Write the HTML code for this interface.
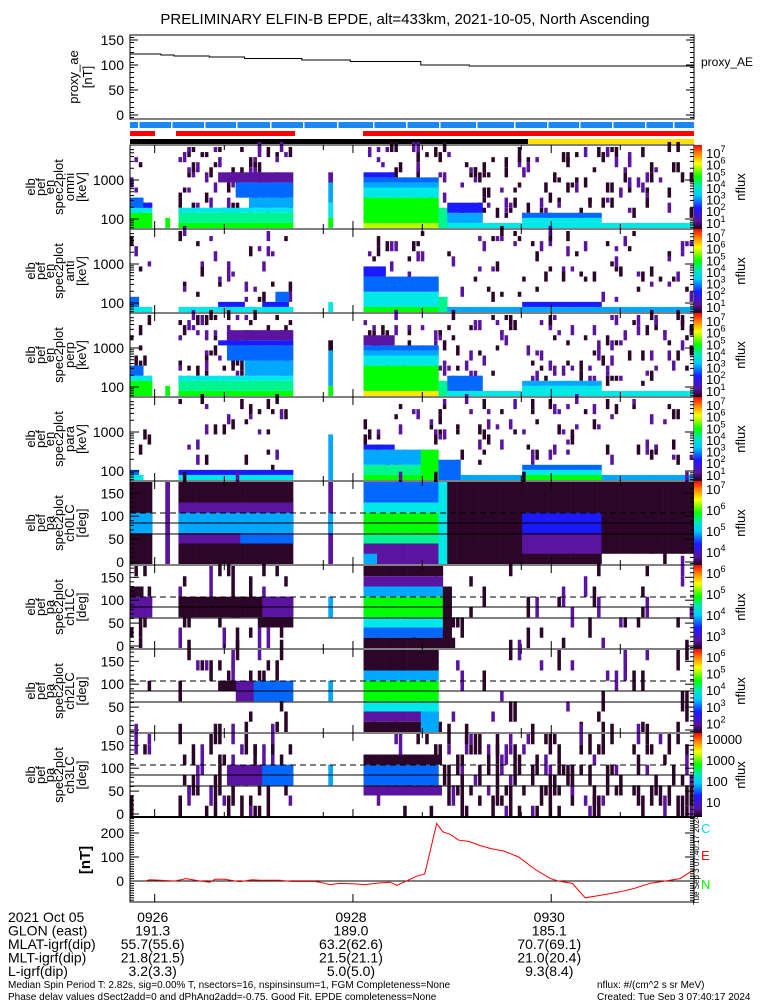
<!DOCTYPE html>
<html><head><meta charset="utf-8"><style>
html,body{margin:0;padding:0;background:#fff;}
svg{display:block;font-family:"Liberation Sans",sans-serif;}
text{font-family:"Liberation Sans",sans-serif;fill:#000;}
</style></head><body>
<svg id="fig" width="775" height="1000" viewBox="0 0 775 1000" xmlns="http://www.w3.org/2000/svg">
<text x="405" y="24" font-size="15" text-anchor="middle">PRELIMINARY ELFIN-B EPDE, alt=433km, 2021-10-05, North Ascending</text>
<g id="g"></g>
</svg>
<script>
// ---- data ----
const NCOL = 128;
const timeTicks = ["0926","0928","0930"];
const tickCols = [5.6, 50.6, 95.6];
const aeCols = [0,7,10,18,26,39,50,66,77,115,127,128];
const aeValues = [122,120,118,116,113,110,107,100,98,98,98,100];
const magCols = [3.4,4.5,6.8,10.2,12.7,15.9,18.1,19.3,21.5,24.9,27.7,29.5,34,36.7,38.5,41.9,43.1,45.4,47.6,51,53.3,56.7,59,60.6,63.3,65.1,66.9,69.6,71,72.6,74.6,76.9,79.1,81.9,84.8,88.2,91.8,95.4,97.2,100.4,103.3,106.7,111.2,114.6,118,121.5,124.8,127.8];
const magValues = [0,5,3,0,10,0,-5,7,7,-3,5,3,3,-2,-2,-2,-5,-15,-10,-12,-15,-8,-5,-18,5,20,30,240,205,195,170,165,150,135,125,100,50,10,0,-10,-70,-60,-45,-30,-10,0,10,45];
const blueBarBreaks = [138,171,204,236,270,303,337,373,406,439,476,514,547,579,612,645,673];
const redBarSegs = [[130,155],[176,295],[363,694]];
// spectrogram blocks: [col0, col1, row0, row1, level]
const omniBlocks = [[0,5,0,3,7],[0,5,3,4,5],[0,3,4,6,3],[3,5,4,5,2],[8,9,0,2,7],[11,37,0,1,7],[11,37,1,3,6],[11,37,3,4,5],[27,37,4,6,4],[24,37,6,9,3],[20,37,9,11,1],[45,46,0,2,7],[45,46,2,5,5],[45,46,5,9,4],[45,46,9,11,1],[53,70,0,1,8],[53,70,1,6,7],[53,70,6,8,5],[53,70,8,9,4],[53,70,9,10,3],[53,60,10,11,2],[70,72,0,4,6],[72,128,0,1,5],[89,107,1,2,5],[89,107,2,3,3],[72,80,1,3,4],[72,80,3,5,2]];
const antiBlocks = [[0,5,0,1,5],[0,2,1,3,3],[11,37,0,1,5],[20,26,1,2,2],[30,36,1,2,2],[33,36,2,4,3],[45,46,0,2,5],[53,70,0,1,7],[53,70,1,4,5],[53,70,4,7,3],[53,58,7,9,2],[70,72,0,3,6],[72,128,0,1,4],[89,107,1,2,2]];
const perpBlocks = [[0,5,0,3,7],[0,5,3,4,5],[0,3,4,6,3],[8,9,0,2,7],[11,37,0,1,7],[11,37,1,3,6],[11,37,3,4,5],[26,37,4,7,4],[22,37,7,10,3],[20,37,10,11,2],[22,37,11,13,1],[45,46,0,2,7],[45,46,2,9,4],[45,46,9,11,0],[53,70,0,1,9],[53,70,1,6,7],[53,70,6,8,5],[53,70,8,9,4],[53,70,9,10,3],[53,60,10,12,1],[70,72,0,3,6],[72,128,0,1,5],[89,107,1,2,5],[89,107,2,3,4],[72,80,1,4,3]];
const paraBlocks = [[0,3,0,1,5],[0,2,1,2,3],[11,37,0,1,5],[11,37,1,2,2],[45,46,0,9,4],[53,66,0,1,7],[53,66,1,3,6],[53,66,3,6,4],[53,60,6,7,2],[66,70,0,6,7],[70,75,0,4,3],[75,128,0,1,4],[89,107,0,1,7],[89,107,1,2,5],[89,107,2,3,3]];
const ch0Blocks = [[0,5,0,8,0],[0,5,3,5,4],[8,9,0,8,1],[11,37,0,8,0],[11,37,5,6,1],[11,37,3,5,4],[11,37,2,3,1],[25,37,2,3,3],[45,46,0,8,1],[45,46,3,5,4],[53,70,6,8,3],[53,70,5,6,5],[53,70,3,5,7],[53,70,2,3,6],[53,70,0,2,1],[53,56,0,1,4],[70,72,0,8,5],[72,107,0,8,0],[89,107,1,3,1],[89,107,3,5,2],[107,128,1,8,0]];
const ch1Blocks = [[0,5,3,5,1],[0,3,5,6,0],[11,37,3,5,0],[30,37,3,5,1],[29,37,2,3,0],[45,46,3,5,4],[53,71,7,8,0],[53,71,6,7,1],[53,71,5,6,4],[53,71,3,5,7],[53,71,2,3,5],[53,71,1,2,3],[53,71,0,1,0],[71,73,0,6,0]];
const ch2Blocks = [[28,37,3,5,3],[24,28,3,5,1],[20,24,4,5,0],[45,46,3,5,4],[53,70,6,8,0],[53,70,5,6,4],[53,70,3,5,7],[53,70,2,3,5],[53,70,1,2,1],[53,70,0,1,0],[66,70,0,2,4]];
const ch3Blocks = [[22,37,3,5,1],[30,37,3,5,3],[45,46,3,5,4],[53,70,3,5,3],[53,70,2,3,1],[53,70,5,6,0]];
// speckle density per region [A, B, C]
const noiseDensity = [[0.1,0.2,0.16],[0.05,0.07,0.08],[0.1,0.2,0.14],[0.05,0.08,0.1],[0.05,0.1,0.12],[0.15,0.12,0.08],[0.05,0.12,0.07],[0.15,0.25,0.27]];

// ---- drawing ----
const NS="http://www.w3.org/2000/svg";
const G=document.getElementById('g');
const X0=130, X1=694;
function xScale(c){return X0 + c*(X1-X0)/NCOL;}
function el(tag,attrs,parent){const e=document.createElementNS(NS,tag);for(const k in attrs)e.setAttribute(k,attrs[k]);(parent||G).appendChild(e);return e;}
const cmap=["#2c0628","#5a14a0","#1a1aff","#0068ff","#00a8ff","#00e8e8","#00f490","#00ff00","#b8ff00","#ffe800","#ff0000"];
function hash(a,b,c){let h=(a*73856093)^(b*19349663)^(c*83492791);h=(h^(h>>>13))*1274126177;h=h^(h>>>16);return ((h>>>0)%10000)/10000;}
function txt(x,y,s,size,anchor,parent){const t=el('text',{x:x,y:y,'font-size':size,'text-anchor':anchor||'start'},parent);t.textContent=s;return t;}

// top panel
const topP=el('g',{});


function aeY(v){return 115-v*0.5;}
let d='';aeCols.forEach((c,i)=>{const x=xScale(c),y=aeY(aeValues[i]);d+=(i?'L':'M')+x+','+y;if(i<aeCols.length-1)d+='L'+xScale(aeCols[i+1])+','+y;});
const aeLine=el('path',{d:d,fill:'none',stroke:'#000','stroke-width':1},topP);


el('rect',{x:X0,y:35,width:X1-X0,height:84,fill:'none',stroke:'#000'},topP);
[0,50,100,150].forEach(v=>{txt(124,aeY(v)+5,String(v),14,'end',topP);el('line',{x1:X0,x2:X0+8,y1:aeY(v),y2:aeY(v),stroke:'#000'},topP);el('line',{x1:X1,x2:X1-8,y1:aeY(v),y2:aeY(v),stroke:'#000'},topP);});
for(let v=-5;v<=165;v+=10){if(aeY(v)<35||aeY(v)>119)continue;el('line',{x1:X0,x2:X0+4,y1:aeY(v),y2:aeY(v),stroke:'#000'},topP);el('line',{x1:X1,x2:X1-4,y1:aeY(v),y2:aeY(v),stroke:'#000'},topP);}
const aeLab=txt(0,0,'proxy_ae',13,'middle',topP);aeLab.setAttribute('transform','translate(78,77) rotate(-90)');
const aeLab2=txt(0,0,'[nT]',13,'middle',topP);aeLab2.setAttribute('transform','translate(92,77) rotate(-90)');
const aeLeg=txt(701,66,'proxy_AE',12,'start',topP);



// bars
const bb=el('rect',{x:X0,y:122,width:X1-X0,height:6,fill:'#1a88f0'});


blueBarBreaks.forEach(x=>el('rect',{x:x,y:122,width:1.5,height:6,fill:'#fff'}));
redBarSegs.forEach(s=>{const r=el('rect',{x:s[0],y:131,width:s[1]-s[0],height:5,fill:'#ff0000'});});
const kb=el('rect',{x:X0,y:139,width:528-X0,height:5,fill:'#000'});


const yb=el('rect',{x:528,y:139,width:X1-528,height:5,fill:'#ffe000'});



// colorbar gradient
const defs=el('defs',{});
const lg=el('linearGradient',{id:'cb',x1:0,y1:1,x2:0,y2:0},defs);
[["0","#1a0018"],["0.1","#5a14a0"],["0.25","#1a1aff"],["0.4","#00c8ff"],["0.5","#00e8c8"],["0.62","#00ff00"],["0.78","#ffff00"],["0.9","#ff8000"],["1","#ff0000"]].forEach(s=>el('stop',{offset:s[0],'stop-color':s[1]},lg));

const panels=[
 {top:145,type:'en',name:'omni',blocks:omniBlocks,cb:[7,6,5,4,3,2,1]},
 {top:229,type:'en',name:'anti',blocks:antiBlocks,cb:[7,6,5,4,3,2,1]},
 {top:313,type:'en',name:'perp',blocks:perpBlocks,cb:[7,6,5,4,3,2,1]},
 {top:397,type:'en',name:'para',blocks:paraBlocks,cb:[7,6,5,4,3,2,1]},
 {top:481,type:'pa',name:'ch0LC',blocks:ch0Blocks,cb:[7,6,5,4]},
 {top:565,type:'pa',name:'ch1LC',blocks:ch1Blocks,cb:[6,5,4,3]},
 {top:649,type:'pa',name:'ch2LC',blocks:ch2Blocks,cb:[6,5,4,3,2]},
 {top:733,type:'pa',name:'ch3LC',blocks:ch3Blocks,cb:['10000','1000','100','10']}
];
const H=84;
function sup(x,y,exp,parent){const t=el('text',{x:x,y:y,'font-size':13},parent);t.textContent='10';const s=el('tspan',{dy:-6,'font-size':9},t);s.textContent=String(exp);}
panels.forEach((p,pi)=>{
 const g=el('g',{});
 
 
 const nrows=p.type==='en'?16:8;
 const rh=p.type==='en'?(H-3)/16:(H-2)/8;
 const base=p.top+H-1;
 const regions=[[0,5],[11,37],[53,128]];
 regions.forEach((r,ri)=>{for(let c=r[0];c<r[1];c++)for(let rr=(p.type==='en'?2:0);rr<nrows;rr++){if(hash(c,rr,pi+1)<noiseDensity[pi][ri]){const len=1+Math.floor(hash(c,rr,pi+7)*2);const lv=hash(rr,c,pi+3)<(p.type==='en'?0.5:0.7)?0:1;el('rect',{x:xScale(c),y:base-(rr+len)*rh,width:(X1-X0)/NCOL*0.8,height:len*rh,fill:cmap[lv]},g);}}});
 p.blocks.forEach(b=>{
  for(let c=b[0];c<b[1];c++){
   el('rect',{x:xScale(c),y:base-b[3]*rh,width:(X1-X0)/NCOL+0.3,height:(b[3]-b[2])*rh,fill:cmap[b[4]]},g);
  }
 });
 el('rect',{x:X0,y:p.top,width:X1-X0,height:H,fill:'none',stroke:'#000'},g);
 for(let m=0;m<6;m++){const x=155+(m-0.3)*99; if(x>X0&&x<X1){el('line',{x1:x,x2:x,y1:p.top+H,y2:p.top+H-5,stroke:'#000'},g);el('line',{x1:x,x2:x,y1:p.top,y2:p.top+5,stroke:'#000'},g);}}
 tickCols.forEach(c=>{const x=xScale(c);el('line',{x1:x,x2:x,y1:p.top+H,y2:p.top+H-8,stroke:'#000'},g);el('line',{x1:x,x2:x,y1:p.top,y2:p.top+8,stroke:'#000'},g);});
 let lines;
 if(p.type==='en'){
  const yE=v=>p.top+H-10-(Math.log10(v)-2)*39;
  [[100,'100'],[1000,'1000']].forEach(t=>{txt(124,yE(t[0])+5,t[1],14,'end',g);el('line',{x1:X0,x2:X0+9,y1:yE(t[0]),y2:yE(t[0]),stroke:'#000'},g);el('line',{x1:X1,x2:X1-9,y1:yE(t[0]),y2:yE(t[0]),stroke:'#000'},g);});
  [60,70,80,90,200,300,400,500,600,700,800,900,2000,3000,4000,5000,6000].forEach(v=>{const y=yE(v);if(y<p.top||y>p.top+H)return;el('line',{x1:X0,x2:X0+4,y1:y,y2:y,stroke:'#000'},g);el('line',{x1:X1,x2:X1-4,y1:y,y2:y,stroke:'#000'},g);});
  lines=['elb','pef','en','spec2plot',p.name,'[keV]'];
 } else {
  const yP=v=>p.top+H-3-v*0.458;
  [0,50,100,150].forEach(v=>{txt(124,yP(v)+5,String(v),14,'end',g);el('line',{x1:X0,x2:X0+9,y1:yP(v),y2:yP(v),stroke:'#000'},g);el('line',{x1:X1,x2:X1-9,y1:yP(v),y2:yP(v),stroke:'#000'},g);});
  for(let v=10;v<=180;v+=10){if(v%50===0)continue;const y=yP(v);el('line',{x1:X0,x2:X0+4,y1:y,y2:y,stroke:'#000'},g);el('line',{x1:X1,x2:X1-4,y1:y,y2:y,stroke:'#000'},g);}
  el('line',{x1:X0,x2:X1,y1:p.top+H-52,y2:p.top+H-52,stroke:'#000','stroke-dasharray':'6,4'},g);
  el('line',{x1:X0,x2:X1,y1:p.top+H-42,y2:p.top+H-42,stroke:'#000'},g);
  el('line',{x1:X0,x2:X1,y1:p.top+H-31,y2:p.top+H-31,stroke:'#000'},g);
  lines=['elb','pef','pa','spec2plot',p.name,'[deg]'];
 }
 const lx=[31,41,50,59,70,82];
 lines.forEach((s,i)=>{const t=txt(0,0,s,13,'middle',g);t.setAttribute('transform','translate('+(lx[i]+4)+','+(p.top+H/2)+') rotate(-90)');});
 const cb=el('rect',{x:694,y:p.top,width:8,height:H,fill:'url(#cb)'},g);
 
 
 const n=p.cb.length;
 p.cb.forEach((e,i)=>{const y=p.top+9+i*(H-6)/(n-0.3);if(typeof e==='string')txt(706,y+2,e,13,'start',g);else sup(706,y+4,e,g);});
 const nf=txt(0,0,'nflux',13,'middle',g);nf.setAttribute('transform','translate(745,'+(p.top+H/2)+') rotate(-90)');
});

// magnetometer panel
const mg=el('g',{});


const MT=817,MB=902;
function mY(v){return 881-v*0.24;}
el('line',{x1:X0,x2:X1,y1:mY(0),y2:mY(0),stroke:'#000'},mg);
let md='';magCols.forEach((c,i)=>{md+=(i?'L':'M')+xScale(c).toFixed(1)+','+mY(magValues[i]).toFixed(1);});
const ml=el('path',{d:md,fill:'none',stroke:'#ff0000','stroke-width':1},mg);


el('rect',{x:X0,y:MT,width:X1-X0,height:MB-MT,fill:'none',stroke:'#000'},mg);
el('line',{x1:X0,x2:X1,y1:MT,y2:MT,stroke:'#000','stroke-width':2},mg);
[0,100,200].forEach(v=>{txt(124,mY(v)+5,String(v),14,'end',mg);el('line',{x1:X0,x2:X0+9,y1:mY(v),y2:mY(v),stroke:'#000'},mg);el('line',{x1:X1,x2:X1-9,y1:mY(v),y2:mY(v),stroke:'#000'},mg);});
for(let v=-80;v<=260;v+=10){const y=mY(v);el('line',{x1:X0,x2:X0+4,y1:y,y2:y,stroke:'#000'},mg);el('line',{x1:X1,x2:X1-4,y1:y,y2:y,stroke:'#000'},mg);}
tickCols.forEach(c=>{const x=xScale(c);el('line',{x1:x,x2:x,y1:MB,y2:MB-8,stroke:'#000'},mg);});
const nt=txt(0,0,'[nT]',15,'middle',mg);nt.setAttribute('font-weight','bold');nt.setAttribute('transform','translate(90,860) rotate(-90)');
[['C','#00e0ff',833],['E','#ff0000',860],['N','#00ff00',889]].forEach(a=>{const t=el('text',{x:701,y:a[2],'font-size':13,fill:a[1]},mg);t.style.fill=a[1];t.textContent=a[0];});
const ts=txt(0,0,'Tue Sep  3 07:40:17 2024',8,'middle',mg);ts.setAttribute('transform','translate(699,860) rotate(-90)');

// bottom annotations
const ann=el('g',{});


const rowsL=['2021 Oct 05','GLON (east)','MLAT-igrf(dip)','MLT-igrf(dip)','L-igrf(dip)'];
const vals=[timeTicks,['191.3','189.0','185.1'],['55.7(55.6)','63.2(62.6)','70.7(69.1)'],['21.8(21.5)','21.5(21.1)','21.0(20.4)'],['3.2(3.3)','5.0(5.0)','9.3(8.4)']];
rowsL.forEach((s,i)=>{const y=922+i*13.5;txt(8,y,s,14,'start',ann);vals[i].forEach((v,j)=>txt(xScale(tickCols[j])-2,y,v,14,'middle',ann));});
txt(8,988,'Median Spin Period T: 2.82s, sig=0.00% T, nsectors=16, nspinsinsum=1, FGM Completeness=None',10,'start',ann);
txt(8,1000,'Phase delay values dSect2add=0 and dPhAng2add=-0.75, Good Fit, EPDE completeness=None',10,'start',ann);
txt(597,988,'nflux: #/(cm^2 s sr MeV)',10,'start',ann);
txt(597,1000,'Created: Tue Sep  3 07:40:17 2024',10,'start',ann);
</script>
</body></html>
